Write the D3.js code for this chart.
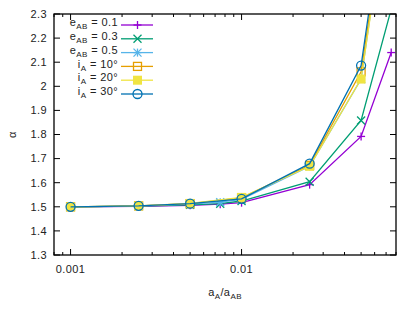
<!DOCTYPE html>
<html>
<head>
<meta charset="utf-8">
<script src="https://cdn.jsdelivr.net/npm/d3@7"></script>
<style>
  body { margin: 0; background: #fff; }
  text { font-family: "Liberation Sans", Arial, sans-serif; fill: #222; letter-spacing: 0.4px; }
</style>
</head>
<body>
<svg id="chart"></svg>
<script>
const xsE = [0.001, 0.0025, 0.005, 0.0075, 0.01, 0.025, 0.05, 0.075];
const xsI = [0.001, 0.0025, 0.005, 0.01, 0.025, 0.05, 0.075];

const e01 = [1.500, 1.502, 1.506, 1.511, 1.517, 1.592, 1.792, 2.140];
const e03 = [1.500, 1.503, 1.508, 1.513, 1.524, 1.604, 1.858, 2.320];
const e05 = [1.500, 1.504, 1.511, 1.519, 1.531, 1.668, 2.030, 2.900];
const i10 = [1.500, 1.504, 1.513, 1.537, 1.672, 2.060, 2.900];
const i20 = [1.500, 1.504, 1.514, 1.539, 1.668, 2.030, 2.880];
const i30 = [1.500, 1.504, 1.513, 1.533, 1.679, 2.086, 2.950];

const xTickVals = [0.001, 0.01];
const yTickVals = [1.3, 1.4, 1.5, 1.6, 1.7, 1.8, 1.9, 2, 2.1, 2.2, 2.3];

const series = [
  { main: "e", sub: "AB", rest: " = 0.1", xs: xsE, ys: e01, color: "#9400d3", marker: "plus" },
  { main: "e", sub: "AB", rest: " = 0.3", xs: xsE, ys: e03, color: "#009e73", marker: "cross" },
  { main: "e", sub: "AB", rest: " = 0.5", xs: xsE, ys: e05, color: "#56b4e9", marker: "star" },
  { main: "i", sub: "A", rest: " = 10°", xs: xsI, ys: i10, color: "#e69f00", marker: "square" },
  { main: "i", sub: "A", rest: " = 20°", xs: xsI, ys: i20, color: "#f0e442", marker: "fsquare" },
  { main: "i", sub: "A", rest: " = 30°", xs: xsI, ys: i30, color: "#0072b2", marker: "circle" }
];

const width = 415, height = 313;
const margin = { top: 14, right: 19, bottom: 58, left: 54 };
const innerW = width - margin.left - margin.right;
const innerH = height - margin.top - margin.bottom;

const svg = d3.select("#chart").attr("width", width).attr("height", height);

const x = d3.scaleLog().domain([0.0008, 0.08]).range([0, innerW]);
const y = d3.scaleLinear().domain([1.3, 2.3]).range([innerH, 0]);

const g = svg.append("g").attr("transform", `translate(${margin.left},${margin.top})`);

g.append("clipPath").attr("id", "clip")
  .append("rect").attr("width", innerW).attr("height", innerH);

// minor + major x ticks (bottom and top, inward)
const minorX = [];
for (let d = -4; d <= -2; d++) {
  for (let m = 1; m <= 9; m++) {
    const v = m * Math.pow(10, d);
    if (v >= 0.0008 && v <= 0.08) minorX.push(v);
  }
}
const ticks = g.append("g").attr("stroke", "#000").attr("stroke-width", 1);
minorX.forEach(v => {
  const len = xTickVals.includes(v) ? 6 : 3;
  const px = x(v);
  ticks.append("line").attr("x1", px).attr("x2", px).attr("y1", innerH).attr("y2", innerH - len);
  ticks.append("line").attr("x1", px).attr("x2", px).attr("y1", 0).attr("y2", len);
});
yTickVals.forEach(v => {
  const py = y(v);
  ticks.append("line").attr("x1", 0).attr("x2", 6).attr("y1", py).attr("y2", py);
  ticks.append("line").attr("x1", innerW).attr("x2", innerW - 6).attr("y1", py).attr("y2", py);
});

// tick labels
g.selectAll("text.ylab").data(yTickVals).join("text")
  .attr("class", "ylab")
  .attr("x", -7).attr("y", d => y(d)).attr("dy", "0.35em")
  .attr("text-anchor", "end").attr("font-size", 11)
  .text(d => d3.format("")(d));

g.selectAll("text.xlab").data(xTickVals).join("text")
  .attr("class", "xlab")
  .attr("x", d => x(d)).attr("y", innerH + 18)
  .attr("text-anchor", "middle").attr("font-size", 11)
  .text(d => d === 0.001 ? "0.001" : "0.01");

// axis titles
svg.append("text")
  .attr("transform", `translate(16,${margin.top + y(1.8)}) rotate(-90)`)
  .attr("text-anchor", "middle").attr("font-size", 11)
  .text("α");

const xt = svg.append("text")
  .attr("x", margin.left + innerW / 2).attr("y", 296)
  .attr("text-anchor", "middle").attr("font-size", 11);
xt.append("tspan").text("a");
xt.append("tspan").attr("font-size", 8).attr("dy", 3).text("A");
xt.append("tspan").attr("dy", -3).text("/a");
xt.append("tspan").attr("font-size", 8).attr("dy", 3).text("AB");

// markers
function drawMarker(sel, type, color, cx, cy) {
  const s = 4;
  if (type === "plus" || type === "star") {
    sel.append("line").attr("x1", cx - s).attr("x2", cx + s).attr("y1", cy).attr("y2", cy).attr("stroke", color);
    sel.append("line").attr("x1", cx).attr("x2", cx).attr("y1", cy - s).attr("y2", cy + s).attr("stroke", color);
  }
  if (type === "cross" || type === "star") {
    sel.append("line").attr("x1", cx - s).attr("x2", cx + s).attr("y1", cy - s).attr("y2", cy + s).attr("stroke", color);
    sel.append("line").attr("x1", cx - s).attr("x2", cx + s).attr("y1", cy + s).attr("y2", cy - s).attr("stroke", color);
  }
  if (type === "square") {
    sel.append("rect").attr("x", cx - 4).attr("y", cy - 4).attr("width", 8).attr("height", 8)
      .attr("fill", "none").attr("stroke", color);
  }
  if (type === "fsquare") {
    sel.append("rect").attr("x", cx - 4.5).attr("y", cy - 4.5).attr("width", 9).attr("height", 9)
      .attr("fill", color).attr("stroke", "none");
  }
  if (type === "circle") {
    sel.append("circle").attr("cx", cx).attr("cy", cy).attr("r", 4.5)
      .attr("fill", "none").attr("stroke", color);
  }
}

const plot = g.append("g").attr("clip-path", "url(#clip)");
const line = d3.line().x(d => x(d[0])).y(d => y(d[1]));

series.forEach(s => {
  const pts = s.xs.map((v, i) => [v, s.ys[i]]);
  const sg = plot.append("g").attr("stroke-width", 1.3);
  sg.append("path").datum(pts).attr("d", line)
    .attr("fill", "none").attr("stroke", s.color).attr("stroke-width", 1.3);
  pts.forEach(p => drawMarker(sg, s.marker, s.color, x(p[0]), y(p[1])));
});

// frame
g.append("rect").attr("width", innerW).attr("height", innerH)
  .attr("fill", "none").attr("stroke", "#000").attr("stroke-width", 1.3);

// legend
const leg = g.append("g");
series.forEach((s, i) => {
  const ly = 11 + i * 13.8;
  const t = leg.append("text")
    .attr("x", 64).attr("y", ly).attr("dy", "0.1em")
    .attr("text-anchor", "end").attr("font-size", 11);
  t.append("tspan").text(s.main);
  t.append("tspan").attr("font-size", 8).attr("dy", 3).text(s.sub);
  t.append("tspan").attr("dy", -3).text(s.rest);
  const lg = leg.append("g").attr("stroke-width", 1.3);
  lg.append("line").attr("x1", 67).attr("x2", 99).attr("y1", ly).attr("y2", ly)
    .attr("stroke", s.color);
  drawMarker(lg, s.marker, s.color, 83.5, ly);
});
</script>
</body>
</html>
